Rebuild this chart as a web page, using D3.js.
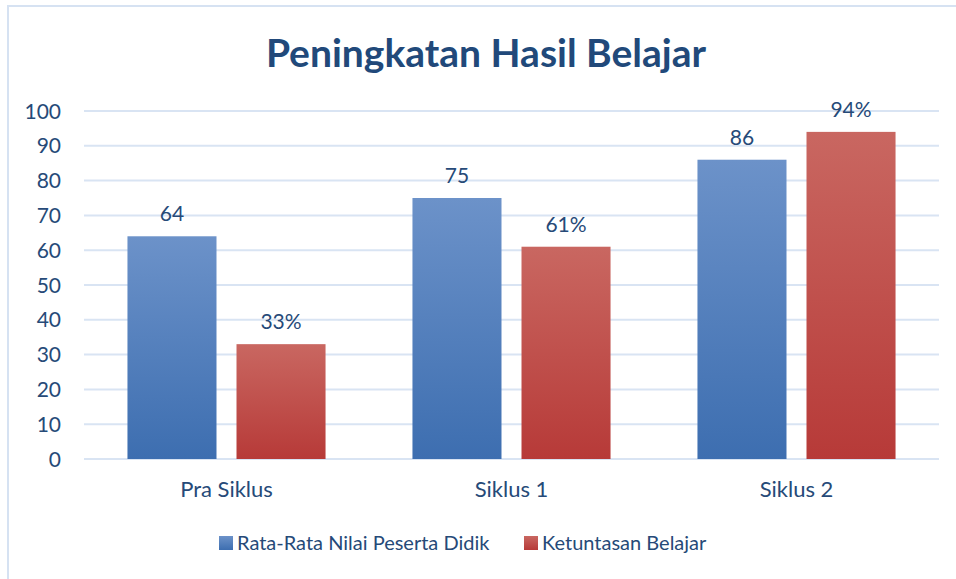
<!DOCTYPE html>
<html>
<head>
<meta charset="utf-8">
<script src="https://cdn.jsdelivr.net/npm/d3@7"></script>
<style>
  body { margin: 0; background: #fff; }
  text { font-family: Lato, "Open Sans", sans-serif; fill: #264a78; }
</style>
</head>
<body>
<div id="vis"></div>
<script>
var categories = ["Pra Siklus", "Siklus 1", "Siklus 2"];
var seriesNames = ["Rata-Rata Nilai Peserta Didik", "Ketuntasan Belajar"];
var rataRata = [64, 75, 86];
var ketuntasan = [33, 61, 94];
var valueLabels = [["64", "75", "86"], ["33%", "61%", "94%"]];
var yTicks = [0, 10, 20, 30, 40, 50, 60, 70, 80, 90, 100];

var width = 956, height = 579;
var plot = {left: 84, right: 939, top: 111, bottom: 459};

var svg = d3.select("#vis").append("svg")
    .attr("width", width)
    .attr("height", height);

var defs = svg.append("defs");
var grads = [["gBlue", "#6c92c9", "#3d6eb0"], ["gRed", "#c96761", "#b73a38"]];
grads.forEach(function(g) {
    var lg = defs.append("linearGradient").attr("id", g[0])
        .attr("x1", 0).attr("y1", 0).attr("x2", 0).attr("y2", 1);
    lg.append("stop").attr("offset", "0%").attr("stop-color", g[1]);
    lg.append("stop").attr("offset", "100%").attr("stop-color", g[2]);
});

// chart frame (cut off at right and bottom)
svg.append("rect")
    .attr("x", 8).attr("y", 6)
    .attr("width", 970).attr("height", 600)
    .attr("fill", "none")
    .attr("stroke", "#d6e2f2")
    .attr("stroke-width", 2);

var x0 = d3.scaleBand()
    .domain(categories)
    .range([plot.left, plot.right])
    .paddingInner(0.305)
    .paddingOuter(0.1525);

var x1 = d3.scaleBand()
    .domain([0, 1])
    .range([0, x0.bandwidth()])
    .paddingInner(0.1835);

var y = d3.scaleLinear().domain([0, 100]).range([plot.bottom, plot.top]);

// gridlines
svg.append("g").selectAll("line")
    .data(yTicks)
    .enter().append("line")
    .attr("x1", plot.left).attr("x2", plot.right)
    .attr("y1", d => y(d)).attr("y2", d => y(d))
    .attr("stroke", "#d9e4f3")
    .attr("stroke-width", 2);

// y tick labels
svg.append("g").selectAll("text")
    .data(yTicks)
    .enter().append("text")
    .attr("x", 61)
    .attr("y", d => y(d))
    .attr("dy", "0.36em")
    .attr("text-anchor", "end")
    .style("font-size", "21px")
    .text(d => d);

var series = [rataRata, ketuntasan];
var fills = ["url(#gBlue)", "url(#gRed)"];

series.forEach(function(vals, s) {
    var g = svg.append("g");
    g.selectAll("rect")
        .data(vals)
        .enter().append("rect")
        .attr("x", (d, i) => x0(categories[i]) + x1(s))
        .attr("y", d => y(d))
        .attr("width", x1.bandwidth())
        .attr("height", d => y(0) - y(d))
        .attr("fill", fills[s]);
    g.selectAll("text")
        .data(vals)
        .enter().append("text")
        .attr("x", (d, i) => x0(categories[i]) + x1(s) + x1.bandwidth() / 2)
        .attr("y", d => y(d) - 15)
        .attr("text-anchor", "middle")
        .style("font-size", "21px")
        .text((d, i) => valueLabels[s][i]);
});

// category labels
svg.append("g").selectAll("text")
    .data(categories)
    .enter().append("text")
    .attr("x", d => x0(d) + x0.bandwidth() / 2)
    .attr("y", 497)
    .attr("text-anchor", "middle")
    .style("font-size", "22px")
    .text(d => d);

// title
svg.append("text")
    .attr("x", 486)
    .attr("y", 67)
    .attr("text-anchor", "middle")
    .style("font-size", "39px")
    .style("font-weight", "bold")
    .style("fill", "#21497a")
    .text("Peningkatan Hasil Belajar");

// legend
var legendX = [219, 524];
seriesNames.forEach(function(name, s) {
    svg.append("rect")
        .attr("x", legendX[s]).attr("y", 536)
        .attr("width", 14).attr("height", 14)
        .attr("fill", fills[s]);
    svg.append("text")
        .attr("x", legendX[s] + 18)
        .attr("y", 550)
        .style("font-size", "20px")
        .text(name);
});
</script>
</body>
</html>
